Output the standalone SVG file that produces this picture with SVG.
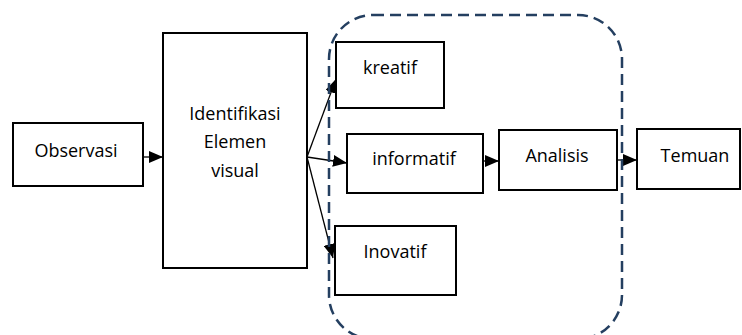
<svg xmlns="http://www.w3.org/2000/svg" width="742" height="335" viewBox="0 0 742 335">
  <defs>
    <marker id="arrow" viewBox="0 0 14 12" refX="14" refY="6" markerWidth="14" markerHeight="12" markerUnits="userSpaceOnUse" orient="auto">
      <path d="M0,0 L14,6 L0,12 Z" fill="#000"/>
    </marker>
  </defs>
  <style>
    .box { fill: #fff; stroke: #000; stroke-width: 2; }
    .lbl { font-family: "Open Sans", "Noto Sans", sans-serif; font-size: 18px; fill: #000; text-anchor: middle; }
    .conn { fill: none; stroke: #000; stroke-width: 1.3; marker-end: url(#arrow); }
    .group { fill: none; stroke: #243F60; stroke-width: 2.5; stroke-dasharray: 11 6; }
  </style>
  <rect width="742" height="335" fill="#fff"/>

  <g id="observasi">
    <rect class="box" x="13" y="123" width="130" height="63"/>
    <text class="lbl" x="76" y="157">Observasi</text>
  </g>

  <g id="identifikasi">
    <rect class="box" x="163" y="33" width="144" height="235"/>
    <text class="lbl" x="235" y="120">Identifikasi</text>
    <text class="lbl" x="235" y="148">Elemen</text>
    <text class="lbl" x="235" y="177">visual</text>
  </g>

  <g id="kreatif">
    <rect class="box" x="336" y="42" width="108" height="66"/>
    <text class="lbl" x="390" y="74">kreatif</text>
  </g>

  <g id="informatif">
    <rect class="box" x="347" y="134" width="136" height="59"/>
    <text class="lbl" x="414" y="165">informatif</text>
  </g>

  <g id="inovatif">
    <rect class="box" x="335" y="226" width="121" height="69"/>
    <text class="lbl" x="395" y="258">Inovatif</text>
  </g>

  <g id="analisis">
    <rect class="box" x="499" y="130" width="118" height="60"/>
    <text class="lbl" x="557" y="162">Analisis</text>
  </g>

  <g id="temuan">
    <rect class="box" x="637" y="129" width="103" height="60"/>
    <text class="lbl" x="695" y="162">Temuan</text>
  </g>

  <g id="connectors">
    <line class="conn" x1="143" y1="157" x2="163" y2="157"/>
    <line class="conn" x1="307" y1="157" x2="336" y2="79"/>
    <line class="conn" x1="307" y1="157" x2="347" y2="163"/>
    <line class="conn" x1="307" y1="157" x2="333" y2="258"/>
    <line class="conn" x1="483" y1="161" x2="499" y2="161"/>
    <line class="conn" x1="617" y1="160" x2="637" y2="160"/>
  </g>

  <g id="boundary">
    <rect class="group" x="329" y="15" width="293" height="324" rx="44" ry="44"/>
  </g>
</svg>
